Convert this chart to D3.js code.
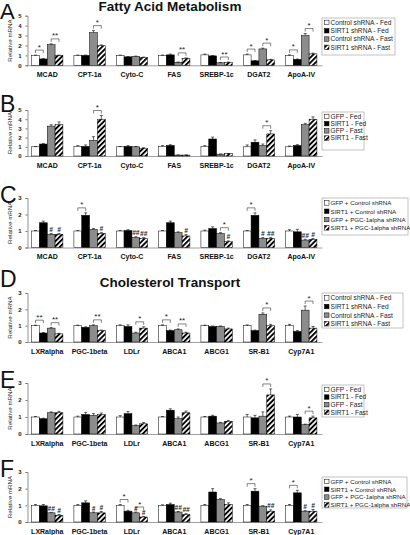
<!DOCTYPE html>
<html><head><meta charset="utf-8">
<script src="https://cdn.jsdelivr.net/npm/d3@7"></script>
<style>body{margin:0;background:#fff}svg{display:block}</style>
</head><body>
<script>
// ---------- DATA ----------
const fatCats = ["MCAD","CPT-1a","Cyto-C","FAS","SREBP-1c","DGAT2","ApoA-IV"];
const cholCats = ["LXRalpha","PGC-1beta","LDLr","ABCA1","ABCG1","SR-B1","Cyp7A1"];
const legShRNA = ["Control shRNA - Fed","SIRT1 shRNA - Fed","Control shRNA - Fast","SIRT1 shRNA - Fast"];
const legGFP = ["GFP - Fed","SIRT1 - Fed","GFP - Fast","SIRT1 - Fast"];
const legPGC = ["GFP + Control shRNA","SIRT1 + Control shRNA","GFP + PGC-1alpha shRNA","SIRT1 + PGC-1alpha shRNA"];
const ticks5 = [0,1,2,3,4,5];
const ticks3 = [0,1,2,3];

// series values: [white, black, gray, hatched], each by category
const valuesA = [[1.0,1.0,1.0,1.0,1.05,1.05,1.0],[0.64,1.0,0.85,1.05,0.95,0.45,0.6],[2.08,3.3,0.9,0.3,0.25,1.65,3.0],[1.0,1.97,0.8,0.7,0.3,0.55,1.15]];
const errA    = [[0.03,0.03,0.03,0.03,0.08,0.08,0.05],[0.03,0.03,0.03,0.08,0.03,0.03,0.03],[0.08,0.2,0.03,0.03,0.03,0.08,0.2],[0.03,0.08,0.03,0.05,0.03,0.05,0.08]];
const valuesB = [[1.0,1.05,1.0,1.05,1.05,1.0,1.0],[1.3,1.05,1.05,1.15,1.85,1.5,1.15],[3.25,1.7,1.0,0.1,0.2,1.15,3.4],[3.4,4.0,0.85,0.1,0.25,2.4,4.0]];
const errB    = [[0.03,0.08,0.03,0.08,0.08,0.2,0.08],[0.05,0.15,0.08,0.08,0.2,0.25,0.08],[0.15,0.4,0.03,0.02,0.02,0.15,0.15],[0.3,0.4,0.05,0.02,0.03,0.35,0.25]];
const valuesC = [[1.0,1.0,1.0,1.0,1.0,1.0,1.0],[1.5,1.95,1.03,1.5,1.15,1.95,0.95],[0.8,1.1,0.6,0.9,0.85,0.55,0.45],[0.8,0.85,0.55,0.7,0.35,0.55,0.5]];
const errC    = [[0.03,0.03,0.03,0.03,0.05,0.03,0.08],[0.1,0.15,0.05,0.1,0.1,0.15,0.15],[0.05,0.05,0.05,0.05,0.05,0.05,0.05],[0.05,0.05,0.05,0.08,0.05,0.05,0.05]];
const valuesD = [[1.0,1.0,1.0,1.0,1.0,1.0,1.0],[0.55,0.9,0.95,0.7,0.95,0.7,0.65],[0.85,1.0,0.55,0.75,0.95,1.7,1.95],[0.5,0.7,0.85,0.55,0.8,1.0,0.85]];
const errD    = [[0.03,0.03,0.05,0.05,0.03,0.05,0.08],[0.03,0.03,0.1,0.03,0.03,0.03,0.05],[0.03,0.05,0.05,0.05,0.03,0.08,0.25],[0.03,0.03,0.08,0.05,0.05,0.08,0.1]];
const valuesE = [[1.0,1.0,1.0,1.0,1.0,1.0,1.0],[0.9,1.15,1.2,1.4,1.05,0.95,1.0],[1.25,1.1,0.5,0.9,0.65,1.05,0.55],[1.25,1.15,0.6,1.25,0.75,2.3,0.95]];
const errE    = [[0.03,0.05,0.08,0.03,0.03,0.15,0.05],[0.03,0.12,0.12,0.08,0.05,0.15,0.15],[0.05,0.1,0.03,0.1,0.03,0.25,0.03],[0.08,0.08,0.08,0.1,0.05,0.35,0.1]];
const valuesF = [[1.0,1.0,1.0,1.0,1.0,1.0,1.0],[0.97,1.15,0.65,1.05,1.8,1.85,1.75],[0.55,0.55,0.55,0.6,1.35,0.95,0.65],[0.4,0.55,0.3,0.45,1.05,0.65,0.65]];
const errF    = [[0.05,0.05,0.05,0.03,0.05,0.05,0.05],[0.08,0.12,0.05,0.08,0.2,0.15,0.15],[0.03,0.05,0.05,0.03,0.05,0.03,0.03],[0.05,0.08,0.03,0.05,0.1,0.08,0.1]];

// significance brackets: [category, fromSeries, toSeries, label]
const sigA = [[0,0,1,"*"],[0,2,3,"**"],[1,2,3,"*"],[3,2,3,"**"],[4,2,3,"**"],[5,0,1,"*"],[5,2,3,"*"],[6,0,1,"*"],[6,2,3,"*"]];
const sigB = [[1,2,3,"*"],[5,2,3,"*"]];
const sigC = [[1,0,1,"*"],[4,2,3,"*"],[5,0,1,"*"]];
const sigD = [[0,0,1,"**"],[0,2,3,"**"],[1,2,3,"**"],[2,2,3,"*"],[3,0,1,"*"],[3,2,3,"**"],[5,2,3,"*"],[6,2,3,"*"]];
const sigE = [[5,2,3,"*"],[6,2,3,"*"]];
const sigF = [[2,0,1,"*"],[2,2,3,"*"],[5,0,1,"*"],[6,0,1,"*"]];
// hash marks: [category, series, label]
const hashC = [[0,2,"#"],[0,3,"#"],[1,3,"#"],[2,2,"##"],[2,3,"##"],[3,3,"#"],[4,3,"#"],[5,2,"#"],[5,3,"##"],[6,2,"##"],[6,3,"#"]];
const hashF = [[0,2,"##"],[0,3,"#"],[1,2,"#"],[1,3,"#"],[2,2,"#"],[2,3,"#"],[3,2,"##"],[3,3,"##"],[5,3,"##"],[6,2,"#"],[6,3,"#"]];

// ---------- DRAW ----------
const W = 410, H = 535;
const svg = d3.select("body").append("svg").attr("width", W).attr("height", H)
  .style("font-family", "Liberation Sans, Arial, sans-serif");
const defs = svg.append("defs");
const pat = defs.append("pattern").attr("id","hatch").attr("patternUnits","userSpaceOnUse")
  .attr("width",3.6).attr("height",3.6).attr("patternTransform","rotate(45)");
pat.append("rect").attr("width",3.6).attr("height",3.6).attr("fill","#fff");
pat.append("rect").attr("width",1.9).attr("height",3.6).attr("fill","#000");
const fills = ["#fff","#000","#8c8c8c","url(#hatch)"];

const x = d3.scaleBand().range([26.5, 322]).paddingInner(0.26).paddingOuter(0.12);

function panel(p) {
  const g = svg.append("g");
  x.domain(p.cats);
  const xs = d3.scaleBand().domain([0,1,2,3]).range([0, x.bandwidth()]);
  const y = d3.scaleLinear().domain([0, p.max]).range([p.bottom, p.top]);
  // y axis
  const ya = g.append("g").attr("transform", `translate(27.5,0)`)
    .call(d3.axisLeft(y).tickValues(p.ticks).tickSize(2).tickFormat(d3.format("d")));
  ya.select(".domain").attr("stroke","#777").attr("stroke-width",0.8);
  ya.selectAll(".tick line").attr("stroke","#777");
  ya.selectAll("text").attr("font-size",6).attr("font-weight","bold").attr("fill","#222").attr("dx",-1);
  // x axis
  const xa = g.append("g").attr("transform", `translate(0,${p.bottom})`)
    .call(d3.axisBottom(x).tickSize(0).tickPadding(7));
  xa.select(".domain").attr("stroke","#888").attr("stroke-width",0.8);
  xa.selectAll("text").attr("font-size",7).attr("font-weight","bold").attr("fill","#111");
  // y title
  g.append("text").attr("transform", `translate(12,${(p.top+p.bottom)/2}) rotate(-90)`)
    .attr("text-anchor","middle").attr("font-size",6.2).attr("fill","#222").text("Relative mRNA");
  // bars
  const topOf = (ci, s) => y(p.values[s][ci] + p.errors[s][ci]);
  p.values.forEach((series, s) => {
    g.append("g").selectAll("rect").data(series).join("rect")
      .attr("x", (d,i) => x(p.cats[i]) + xs(s))
      .attr("y", d => y(d))
      .attr("width", xs.bandwidth())
      .attr("height", d => y(0) - y(d))
      .attr("fill", fills[s]).attr("stroke","#000").attr("stroke-width",0.5);
    // error bars
    const eg = g.append("g").attr("stroke","#000").attr("stroke-width",0.6);
    series.forEach((d,i) => {
      const cx = x(p.cats[i]) + xs(s) + xs.bandwidth()/2;
      const yt = y(d + p.errors[s][i]);
      eg.append("line").attr("x1",cx).attr("x2",cx).attr("y1",y(d)).attr("y2",yt);
      eg.append("line").attr("x1",cx-1.5).attr("x2",cx+1.5).attr("y1",yt).attr("y2",yt);
    });
  });
  // hash marks
  (p.hashes || []).forEach(([ci, s, lab]) => {
    const cx = x(p.cats[ci]) + xs(s) + xs.bandwidth()/2;
    g.append("text").attr("x",cx).attr("y",topOf(ci,s) - 1.5).attr("text-anchor","middle")
      .attr("font-size",6.5).attr("font-weight","bold").attr("font-style","italic").attr("fill","#222").text(lab);
  });
  // significance brackets
  (p.sig || []).forEach(([ci, a, b, lab]) => {
    const x1 = x(p.cats[ci]) + xs(a) + xs.bandwidth()/2;
    const x2 = x(p.cats[ci]) + xs(b) + xs.bandwidth()/2;
    const yb = Math.min(topOf(ci,a), topOf(ci,b)) - 5;
    g.append("path").attr("d", `M${x1},${yb+3}V${yb}H${x2}V${yb+3}`)
      .attr("fill","none").attr("stroke","#333").attr("stroke-width",0.6);
    g.append("text").attr("x",(x1+x2)/2).attr("y",yb - 0.5).attr("text-anchor","middle")
      .attr("font-size",8).attr("fill","#222").text(lab);
  });
  // letter
  g.append("text").attr("x",0).attr("y",p.letterY).attr("font-size",p.letterSize || 23).attr("fill","#111").text(p.letter);
  // legend
  const lg = g.append("g").attr("transform", `translate(322,${p.legY})`);
  lg.append("rect").attr("width",p.legW).attr("height",p.legH).attr("fill","#fff").attr("stroke","#999").attr("stroke-width",0.6);
  p.legend.forEach((t,i) => {
    const cy = p.legFirst + i * p.legStep;
    lg.append("rect").attr("x",2.5).attr("y",cy-2.3).attr("width",4.5).attr("height",4.5)
      .attr("fill",fills[i]).attr("stroke","#000").attr("stroke-width",0.5);
    lg.append("text").attr("x",8.5).attr("y",cy+2.3).attr("font-size",p.legFont).attr("fill","#222").text(t);
  });
}

svg.append("text").attr("x",170).attr("y",10.5).attr("text-anchor","middle")
  .attr("font-size",13.5).attr("font-weight","bold").attr("fill","#111").text("Fatty Acid Metabolism");
svg.append("text").attr("x",170).attr("y",286.5).attr("text-anchor","middle")
  .attr("font-size",13.5).attr("font-weight","bold").attr("fill","#111").text("Cholesterol Transport");

panel({cats:fatCats, values:valuesA, errors:errA, sig:sigA, max:5, ticks:ticks5, top:15.7, bottom:65.3,
  letter:"A", letterY:19, letterSize:22, legend:legShRNA, legY:18, legW:73, legH:37, legFirst:4.5, legStep:8.3, legFont:6.6});
panel({cats:fatCats, values:valuesB, errors:errB, sig:sigB, max:5, ticks:ticks5, top:110, bottom:156,
  letter:"B", letterY:112, legend:legGFP, legY:112, legW:42, legH:38, legFirst:4.5, legStep:7.2, legFont:6.6});
panel({cats:fatCats, values:valuesC, errors:errC, sig:sigC, hashes:hashC, max:3, ticks:ticks3, top:198, bottom:247.5,
  letter:"C", letterY:203, legend:legPGC, legY:198, legW:86, legH:37, legFirst:5, legStep:8.3, legFont:6.2});
panel({cats:cholCats, values:valuesD, errors:errD, sig:sigD, max:3, ticks:ticks3, top:293, bottom:342,
  letter:"D", letterY:287, legend:legShRNA, legY:293, legW:81, legH:35, legFirst:5, legStep:8.6, legFont:6.6});
panel({cats:cholCats, values:valuesE, errors:errE, sig:sigE, max:3, ticks:ticks3, top:383, bottom:434,
  letter:"E", letterY:388, legend:legGFP, legY:385, legW:42, legH:32, legFirst:4.5, legStep:7.6, legFont:6.6});
panel({cats:cholCats, values:valuesF, errors:errF, sig:sigF, hashes:hashF, max:3, ticks:ticks3, top:472, bottom:522,
  letter:"F", letterY:477, legend:legPGC, legY:477, legW:85, legH:31, legFirst:4.5, legStep:7.8, legFont:6.2});
</script>
</body></html>
